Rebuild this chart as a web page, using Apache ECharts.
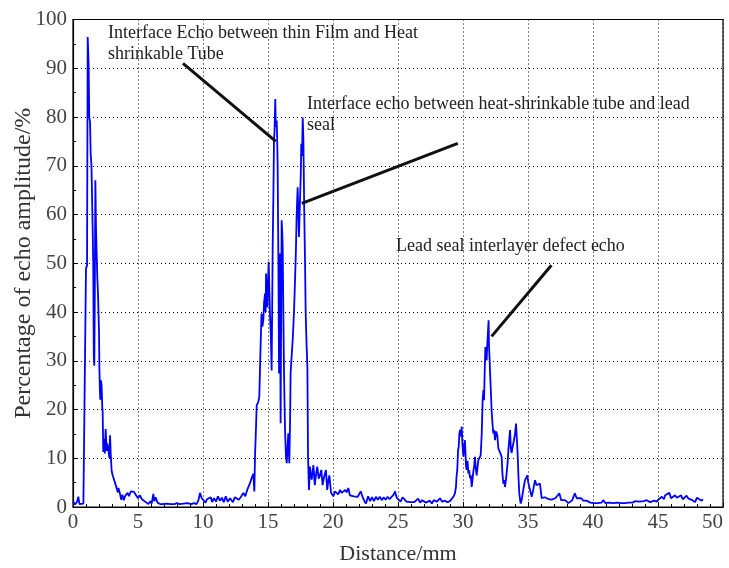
<!DOCTYPE html>
<html>
<head>
<meta charset="utf-8">
<script src="https://cdn.jsdelivr.net/npm/echarts@6/dist/echarts.min.js"></script>
<style>
  html, body { margin: 0; padding: 0; background: #fff; }
  #chart { width: 729px; height: 568px; }
</style>
</head>
<body>
<div id="chart"></div>
<script>
// echo trace: distance in mm, amplitude in %
const distance = [
  0.0, 0.15, 0.3, 0.41, 0.5, 0.65, 0.8, 0.95, 1.0, 1.08, 1.13, 1.2, 1.25, 1.31, 1.36, 1.42, 1.49, 1.52, 1.56, 1.6,
  1.64, 1.68, 1.72, 1.77, 1.82, 1.87, 1.92, 1.95, 2.0, 2.03, 2.07, 2.1, 2.15, 2.2, 2.25, 2.28, 2.33, 2.4, 2.45, 2.51,
  2.6, 2.65, 2.72, 2.8, 2.85, 2.9, 2.97, 3.05, 3.15, 3.23, 3.35, 3.45, 3.5, 3.6, 3.7, 3.8, 3.9, 4.0, 4.1, 4.2,
  4.3, 4.45, 4.6, 4.7, 4.8, 4.9, 5.0, 5.15, 5.3, 5.45, 5.6, 5.67, 5.8, 5.95, 6.05, 6.18, 6.25, 6.35, 6.5, 6.7,
  6.9, 7.2, 7.5, 7.8, 8.0, 8.2, 8.5, 8.8, 9.1, 9.3, 9.5, 9.65, 9.77, 9.9, 10.05, 10.2, 10.3, 10.45, 10.6, 10.7,
  10.85, 11.0, 11.15, 11.3, 11.45, 11.6, 11.75, 11.9, 12.08, 12.3, 12.45, 12.6, 12.75, 12.9, 13.1, 13.25, 13.4, 13.6, 13.75, 13.87,
  13.95, 14.0, 14.08, 14.13, 14.25, 14.33, 14.42, 14.5, 14.57, 14.64, 14.7, 14.77, 14.82, 14.85, 14.9, 14.95, 15.0, 15.05, 15.1, 15.15,
  15.22, 15.28, 15.32, 15.36, 15.42, 15.46, 15.5, 15.56, 15.6, 15.67, 15.7, 15.74, 15.8, 15.85, 15.92, 15.97, 16.05, 16.1, 16.13, 16.18,
  16.23, 16.28, 16.31, 16.38, 16.44, 16.5, 16.56, 16.64, 16.7, 16.74, 16.82, 16.9, 17.0, 17.08, 17.15, 17.2, 17.28, 17.33, 17.38, 17.46,
  17.52, 17.56, 17.62, 17.67, 17.72, 17.79, 17.85, 17.9, 17.97, 18.03, 18.08, 18.15, 18.23, 18.3, 18.36, 18.43, 18.49, 18.6, 18.7, 18.79,
  18.9, 19.0, 19.1, 19.2, 19.3, 19.46, 19.55, 19.65, 19.72, 19.85, 20.03, 20.15, 20.28, 20.4, 20.55, 20.66, 20.8, 20.95, 21.05, 21.18,
  21.3, 21.45, 21.6, 21.75, 21.9, 22.0, 22.13, 22.3, 22.42, 22.54, 22.7, 22.85, 23.0, 23.15, 23.3, 23.45, 23.6, 23.75, 23.9, 24.05,
  24.2, 24.35, 24.5, 24.65, 24.77, 24.9, 25.05, 25.2, 25.35, 25.5, 25.65, 25.8, 25.95, 26.1, 26.25, 26.4, 26.55, 26.7, 26.85, 27.0,
  27.15, 27.3, 27.45, 27.6, 27.75, 27.9, 28.0, 28.23, 28.4, 28.6, 28.8, 29.0, 29.13, 29.26, 29.38, 29.46, 29.5, 29.56, 29.62, 29.67,
  29.72, 29.77, 29.84, 29.9, 29.95, 30.03, 30.08, 30.15, 30.23, 30.28, 30.35, 30.41, 30.48, 30.54, 30.6, 30.67, 30.73, 30.79, 30.86, 30.92,
  30.98, 31.05, 31.12, 31.18, 31.27, 31.36, 31.44, 31.51, 31.57, 31.62, 31.67, 31.72, 31.77, 31.82, 31.86, 31.9, 31.97, 32.0, 32.05, 32.09,
  32.13, 32.17, 32.2, 32.27, 32.33, 32.4, 32.46, 32.55, 32.64, 32.72, 32.79, 32.88, 32.97, 33.03, 33.1, 33.17, 33.23, 33.3, 33.36, 33.43,
  33.49, 33.55, 33.62, 33.68, 33.74, 33.83, 33.92, 34.0, 34.08, 34.14, 34.2, 34.27, 34.33, 34.39, 34.44, 34.52, 34.59, 34.68, 34.77, 34.86,
  34.95, 35.02, 35.1, 35.2, 35.28, 35.4, 35.54, 35.65, 35.79, 35.92, 36.05, 36.18, 36.3, 36.44, 36.6, 36.7, 36.82, 36.95, 37.1, 37.25,
  37.41, 37.55, 37.7, 37.85, 37.95, 38.1, 38.25, 38.4, 38.6, 38.75, 38.9, 39.1, 39.25, 39.38, 39.5, 39.65, 39.8, 39.9, 40.05, 40.2,
  40.35, 40.5, 40.65, 40.8, 40.95, 41.1, 41.25, 41.4, 41.55, 41.7, 41.85, 42.0, 42.15, 42.3, 42.45, 42.6, 42.75, 42.9, 43.05, 43.25,
  43.4, 43.55, 43.7, 43.9, 44.13, 44.25, 44.4, 44.55, 44.7, 44.9, 45.05, 45.16, 45.3, 45.45, 45.55, 45.7, 45.87, 46.0, 46.15, 46.31,
  46.45, 46.55, 46.77, 46.9, 47.05, 47.2, 47.35, 47.5, 47.65, 47.85, 48.0, 48.15, 48.36, 48.45
];
const amplitude = [
  1.2, 0.5, 1.0, 2.1, 0.6, 0.8, 0.7, 0.7, 49, 49.5, 96.4, 91, 80, 79, 72.5, 70, 69.7, 56, 49, 30.8,
  29, 45, 67, 57.4, 52, 47, 44, 41, 36, 28.5, 24, 22, 26, 25, 20.5, 19.6, 11.3, 14, 11, 16,
  11.5, 13, 12.6, 10, 14.7, 11, 7.5, 6.5, 6.8, 5, 4.6, 3, 3.9, 2.9, 1.5, 2.5, 1.4, 2.2, 1.8, 2.9,
  2.2, 3.2, 2.8, 3.1, 2.6, 2.4, 1.8, 2.4, 1.6, 1.2, 1.0, 0.9, 0.6, 1.2, 0.7, 2.7, 1.2, 2.0, 0.9, 0.6,
  0.6, 0.7, 0.6, 0.6, 0.8, 0.6, 0.7, 0.8, 0.6, 0.8, 0.6, 1.4, 2.9, 1.8, 2.1, 0.9, 1.6, 1.2, 2.0, 1.0,
  1.8, 1.1, 2.2, 1.3, 1.9, 1.0, 2.2, 1.1, 1.8, 1.0, 2.0, 2.4, 1.5, 2.0, 2.9, 2.2, 3.5, 4.8, 6, 6.8,
  3.2, 10.3, 16.5, 20.9, 21.5, 22.6, 32, 39.7, 37, 38.3, 42, 43.8, 40, 47.9, 44, 41, 46, 50.3, 45, 39.7,
  35, 28, 40, 53.3, 65, 75.2, 77, 83.7, 78, 79.3, 76, 70.4, 50, 27.4, 52, 17.2, 58.8, 56, 53.3, 40,
  28, 20, 15.8, 10.5, 9, 12, 15.1, 9, 18, 27.4, 31, 34.3, 40, 46.5, 53, 59.5, 65.6, 61, 55.4, 62.9,
  68, 74.5, 72, 79.9, 75.8, 60.2, 50, 39.7, 33, 28.7, 10.3, 3.5, 8.3, 6.5, 5.6, 7.2, 8.6, 4.5, 6.8, 8.3,
  5.8, 6.5, 7.6, 4.5, 6, 7.6, 3.5, 5.5, 6.5, 2.9, 2.2, 3.2, 3.2, 2.6, 3.5, 2.9, 3.2, 3.5, 3.0, 3.9,
  2.4, 2.1, 2.2, 2.0, 2.1, 1.9, 3.2, 1.9, 1.2, 0.7, 2.2, 1.2, 2.0, 1.2, 2.1, 1.5, 2.1, 1.4, 2.0, 1.5,
  2.1, 1.6, 2.0, 2.5, 3.2, 1.9, 1.5, 1.1, 2.0, 1.6, 1.1, 1.3, 1.0, 1.4, 1.0, 1.1, 1.7, 0.9, 1.4, 1.2,
  0.9, 1.1, 1.3, 0.7, 1.4, 1.0, 1.1, 1.8, 1.1, 1.3, 1.0, 1.2, 1.0, 2.1, 2.8, 4.1, 6.2, 7.6, 11.7, 12.3,
  15.0, 15.8, 14.5, 16.5, 13.1, 10.3, 12, 13.7, 8.5, 7.6, 9.5, 6.9, 7.5, 5.9, 6.5, 4.1, 5.5, 7.2, 8.5, 10.3,
  8, 6.5, 8.2, 9.6, 9.5, 10.6, 15, 21.9, 24, 21.9, 28, 32.8, 31, 30.1, 33, 34.9, 38.3, 33, 30.1, 27,
  24.6, 22, 19.9, 17, 15.1, 15.8, 13.7, 15.5, 14.7, 12, 12.3, 11, 10.3, 7, 4.8, 5.5, 4.1, 5.5, 7.0, 9,
  11.7, 13.5, 15.8, 12, 11.1, 12.5, 13.7, 15, 17.1, 14, 11.1, 6, 2.8, 1.5, 0.7, 1.5, 2.8, 4.2, 5.5, 5.8,
  6.5, 5, 4.1, 3, 2.1, 3.5, 5.5, 4.5, 4.1, 4.8, 1.8, 1.4, 2.0, 2.4, 1.6, 2.0, 1.5, 1.4, 1.8, 2.0,
  2.8, 1.4, 1.6, 1.4, 1.1, 0.8, 1.2, 1.4, 2.8, 1.8, 2.1, 1.8, 1.3, 0.9, 1.3, 1.2, 0.9, 1.0, 0.8, 0.9,
  0.8, 1.0, 0.9, 1.4, 0.8, 1.0, 0.9, 1.2, 0.8, 1.0, 0.9, 1.1, 0.8, 1.0, 0.8, 1.1, 0.9, 1.0, 0.9, 1.2,
  1.0, 1.1, 0.9, 1.2, 1.4, 1.5, 1.0, 1.2, 1.3, 1.1, 1.6, 1.9, 2.1, 1.6, 2.4, 2.0, 2.9, 1.8, 2.2, 2.4,
  1.9, 2.1, 2.4, 1.6, 1.6, 2.3, 1.7, 1.9, 1.4, 1.0, 1.9, 1.7, 1.3, 1.6
];

// leader lines of the annotations, in data units [mm, %]
const leaders = [
  [[8.46, 91.0], [15.6, 75.0]],
  [[17.6, 62.3], [29.6, 74.6]],
  [[32.2, 35.0], [36.8, 49.6]]
];

const serif = '"Liberation Serif", "Times New Roman", serif'

const chart = echarts.init(document.getElementById('chart'))

let option = {
  animation: false,
  grid: {
    left: 73, right: 6, top: 19.5, bottom: 61,
    containLabel: false,
    outerBoundsMode: 'none',
    show: true, borderColor: '#000', borderWidth: 1.2
  },
  xAxis: {
    type: 'value',
    min: 0, max: 50, interval: 5,
    name: 'Distance/mm',
    nameLocation: 'middle',
    nameGap: 36,
    nameMoveOverlap: false,
    nameTextStyle: {fontFamily: serif, fontSize: 22, color: '#333'},
    axisLine: {show: true, lineStyle: {color: '#000', width: 1.2}},
    axisTick: {show: true, inside: true, length: 5, lineStyle: {color: '#000'}},
    minorTick: {show: true, splitNumber: 5, length: 3, lineStyle: {color: '#000'}},
    axisLabel: {fontFamily: serif, fontSize: 21, color: '#444', margin: 5, alignMaxLabel: 'right'},
    splitLine: {show: true, lineStyle: {color: '#000', type: [1, 3], width: 1}}
  },
  yAxis: {
    type: 'value',
    min: 0, max: 100, interval: 10,
    name: 'Percentage of echo amplitude/%',
    nameLocation: 'middle',
    nameGap: 37,
    nameMoveOverlap: false,
    nameTextStyle: {fontFamily: serif, fontSize: 24, color: '#333'},
    axisLine: {show: true, lineStyle: {color: '#000', width: 1.2}},
    axisTick: {show: true, inside: true, length: 5, lineStyle: {color: '#000'}},
    minorTick: {show: true, splitNumber: 2, length: 3, lineStyle: {color: '#000'}},
    axisLabel: {fontFamily: serif, fontSize: 21, color: '#444', margin: 6},
    splitLine: {show: true, lineStyle: {color: '#000', type: [1, 3], width: 1}}
  },
  series: [
    {
      type: 'line',
      data: distance.map((d, i) => [d, amplitude[i]]),
      showSymbol: false,
      lineStyle: {color: '#0000ff', width: 1.8},
      markLine: {
        silent: true,
        symbol: 'none',
        label: {show: false},
        lineStyle: {color: '#111', width: 3, type: 'solid'},
        data: leaders.map(p => [{coord: p[0]}, {coord: p[1]}])
      }
    }
  ],
  graphic: [
    {type: 'text', left: 108, top: 23, style: {text: 'Interface Echo between thin Film and Heat\nshrinkable Tube', font: '18px ' + serif, fill: '#222', lineHeight: 21}},
    {type: 'text', left: 307, top: 94, style: {text: 'Interface echo between heat-shrinkable tube and lead\nseal', font: '18px ' + serif, fill: '#222', lineHeight: 21}},
    {type: 'text', left: 396, top: 237, style: {text: 'Lead seal interlayer defect echo', font: '18px ' + serif, fill: '#222'}}
  ]
}

chart.setOption(option)
</script>
</body>
</html>
